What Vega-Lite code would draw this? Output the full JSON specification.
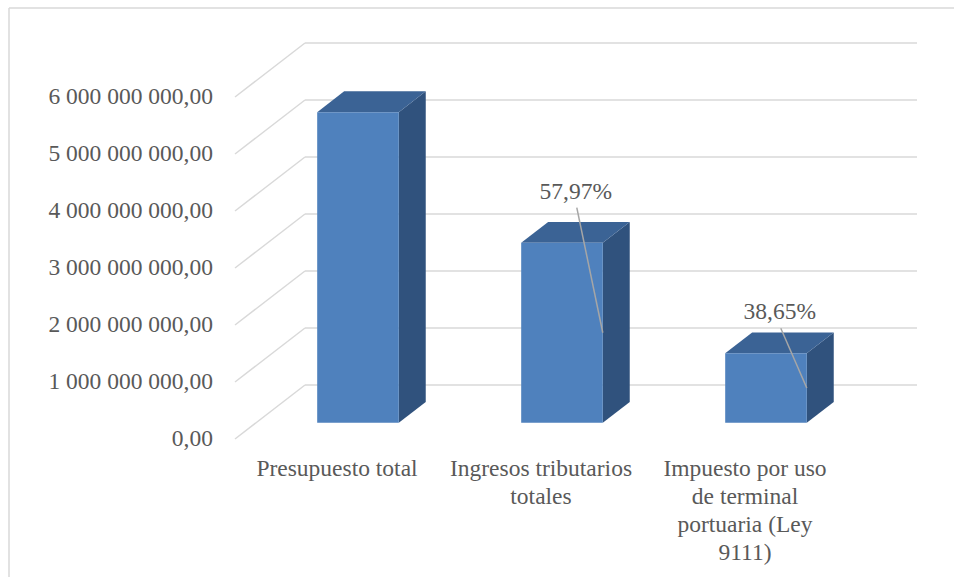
{
  "$schema": "https://vega.github.io/schema/vega-lite/v6.json",
  "autosize": {"type": "none"},
  "padding": {"left": 9, "top": 8, "right": 0, "bottom": 0},
  "width": 945,
  "height": 569,
  "background": "white",
  "config": {
    "view": {"stroke": null},
    "locale": {
      "number": {"decimal": ",", "thousands": " ", "grouping": [3], "currency": ["", ""]}
    }
  },
  "datasets": {
    "partidas": [
      {"categoria": "Presupuesto total", "valor": 5450000000},
      {"categoria": "Ingresos tributarios\ntotales", "valor": 3159365000},
      {"categoria": "Impuesto por uso\nde terminal\nportuaria (Ley\n9111)", "valor": 1221094573}
    ],
    "marcas": [
      {"valor": 0},
      {"valor": 1000000000},
      {"valor": 2000000000},
      {"valor": 3000000000},
      {"valor": 4000000000},
      {"valor": 5000000000},
      {"valor": 6000000000}
    ],
    "marco": [
      {"borde": "superior"},
      {"borde": "izquierdo"}
    ]
  },
  "data": {"name": "partidas"},
  "encoding": {
    "x": {
      "field": "px",
      "type": "quantitative",
      "stack": null,
      "scale": {"domain": [-1.1078, 3.5245], "nice": false, "zero": false},
      "axis": null
    },
    "y": {
      "field": "py",
      "type": "quantitative",
      "stack": null,
      "scale": {"domain": [-2421052632, 7561403509], "nice": false, "zero": false},
      "axis": null
    }
  },
  "layer": [
    {
      "description": "Borde del área del gráfico (lados superior e izquierdo)",
      "data": {"name": "marco"},
      "transform": [
        {"calculate": "-1.1078", "as": "px"},
        {"calculate": "7561403509", "as": "py"},
        {"calculate": "datum.borde == 'superior' ? 3.5245 : -1.1078", "as": "px2"},
        {"calculate": "datum.borde == 'superior' ? 7561403509 : -2421052632", "as": "py2"}
      ],
      "mark": {"type": "rule", "color": "#D9D9D9", "strokeWidth": 1.5},
      "encoding": {
        "x2": {"field": "px2"},
        "y2": {"field": "py2"}
      }
    },
    {
      "description": "Líneas de división en la pared lateral (en perspectiva)",
      "data": {"name": "marcas"},
      "transform": [
        {"calculate": "0", "as": "px"},
        {"calculate": "datum.valor", "as": "py"},
        {"calculate": "0.3431", "as": "px2"},
        {"calculate": "datum.valor + 947368421", "as": "py2"}
      ],
      "mark": {"type": "rule", "color": "#D9D9D9", "strokeWidth": 1.5},
      "encoding": {
        "x2": {"field": "px2"},
        "y2": {"field": "py2"}
      }
    },
    {
      "description": "Líneas de división en la pared del fondo",
      "data": {"name": "marcas"},
      "transform": [
        {"calculate": "0.3431", "as": "px"},
        {"calculate": "datum.valor + 947368421", "as": "py"},
        {"calculate": "3.3431", "as": "px2"},
        {"calculate": "datum.py", "as": "py2"}
      ],
      "mark": {"type": "rule", "color": "#D9D9D9", "strokeWidth": 1.5},
      "encoding": {
        "x2": {"field": "px2"},
        "y2": {"field": "py2"}
      }
    },
    {
      "description": "Cara lateral derecha de cada columna",
      "transform": [
        {"window": [{"op": "row_number", "as": "n"}]},
        {"calculate": "datum.n - 0.5", "as": "c"},
        {"calculate": "[0.3, 0.685]", "as": "d"},
        {"flatten": ["d"]},
        {"calculate": "datum.c + 0.2 + datum.d * 0.3431", "as": "px"},
        {"calculate": "datum.d * 947368421", "as": "py"},
        {"calculate": "datum.valor + datum.d * 947368421", "as": "py2"}
      ],
      "mark": {"type": "area", "fill": "#30527D", "interpolate": "linear"},
      "encoding": {
        "y2": {"field": "py2"},
        "detail": {"field": "categoria"}
      }
    },
    {
      "description": "Cara superior de cada columna",
      "transform": [
        {"window": [{"op": "row_number", "as": "n"}]},
        {"calculate": "datum.n - 0.5", "as": "c"},
        {"calculate": "[0.3, 0.685]", "as": "d"},
        {"flatten": ["d"]},
        {"calculate": "datum.c - 0.2 + datum.d * 0.3431", "as": "px"},
        {"calculate": "datum.c + 0.2 + datum.d * 0.3431", "as": "px2"},
        {"calculate": "datum.valor + datum.d * 947368421", "as": "py"}
      ],
      "mark": {"type": "area", "orient": "horizontal", "fill": "#3B6395", "interpolate": "linear"},
      "encoding": {
        "x2": {"field": "px2"},
        "detail": {"field": "categoria"}
      }
    },
    {
      "description": "Cara frontal de cada columna",
      "transform": [
        {"window": [{"op": "row_number", "as": "n"}]},
        {"calculate": "datum.n - 0.5", "as": "c"},
        {"calculate": "datum.c - 0.2 + 0.3 * 0.3431", "as": "px"},
        {"calculate": "datum.c + 0.2 + 0.3 * 0.3431", "as": "px2"},
        {"calculate": "0.3 * 947368421", "as": "py"},
        {"calculate": "datum.valor + 0.3 * 947368421", "as": "py2"}
      ],
      "mark": {"type": "rect", "fill": "#4F81BD"},
      "encoding": {
        "x2": {"field": "px2"},
        "y2": {"field": "py2"}
      }
    },
    {
      "description": "Líneas guía de las etiquetas de porcentaje",
      "transform": [
        {"window": [{"op": "row_number", "as": "n"}, {"op": "lag", "field": "valor", "as": "anterior"}]},
        {"filter": "datum.anterior != null"},
        {"calculate": "datum.n - 0.5", "as": "c"},
        {"calculate": "datum.c + 0.2 + 0.3 * 0.3431 - 0.1324 + 0.0049", "as": "px"},
        {"calculate": "datum.valor * 1.0905 + 0.3 * 947368421 + 608771930 - 280701754", "as": "py"},
        {"calculate": "datum.c + 0.2 + 0.3 * 0.3431", "as": "px2"},
        {"calculate": "datum.valor / 2 + 0.3 * 947368421", "as": "py2"}
      ],
      "mark": {"type": "rule", "color": "#A6A6A6", "strokeWidth": 1.5},
      "encoding": {
        "x2": {"field": "px2"},
        "y2": {"field": "py2"}
      }
    },
    {
      "description": "Porcentaje respecto de la columna anterior",
      "transform": [
        {"window": [{"op": "row_number", "as": "n"}, {"op": "lag", "field": "valor", "as": "anterior"}]},
        {"filter": "datum.anterior != null"},
        {"calculate": "datum.valor / datum.anterior", "as": "pct"},
        {"calculate": "datum.n - 0.5", "as": "c"},
        {"calculate": "datum.c + 0.2 + 0.3 * 0.3431 - 0.1324", "as": "px"},
        {"calculate": "datum.valor * 1.0905 + 0.3 * 947368421 + 608771930", "as": "py"}
      ],
      "mark": {"type": "text", "font": "Liberation Serif", "fontSize": 23.5, "fill": "#595959", "align": "center", "baseline": "middle"},
      "encoding": {
        "text": {"field": "pct", "type": "quantitative", "format": ".2%"}
      }
    },
    {
      "description": "Rótulos del eje de valores",
      "data": {"name": "marcas"},
      "transform": [
        {"calculate": "0", "as": "px"},
        {"calculate": "datum.valor", "as": "py"}
      ],
      "mark": {"type": "text", "font": "Liberation Serif", "fontSize": 23.5, "fill": "#595959", "align": "right", "baseline": "middle", "dx": -22},
      "encoding": {
        "text": {"field": "valor", "type": "quantitative", "format": ",.2f"}
      }
    },
    {
      "description": "Rótulos de categoría",
      "transform": [
        {"window": [{"op": "row_number", "as": "n"}]},
        {"calculate": "datum.n - 0.5", "as": "px"},
        {"calculate": "0", "as": "py"}
      ],
      "mark": {"type": "text", "font": "Liberation Serif", "fontSize": 23.5, "fill": "#595959", "align": "center", "baseline": "top", "dy": 18, "lineBreak": "\n", "lineHeight": 28},
      "encoding": {
        "text": {"field": "categoria", "type": "nominal"}
      }
    }
  ]
}
